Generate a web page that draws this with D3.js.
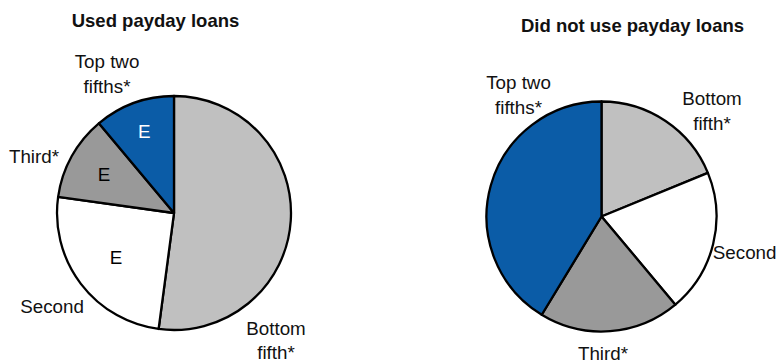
<html lang="en"><head>
<meta charset="utf-8">
<script src="https://d3js.org/d3.v7.min.js"></script>
<title>Payday loans by income fifth</title>
<style>
  body { margin: 0; background: #fff; }
  text { font-family: "Liberation Sans", Arial, sans-serif; }
</style>
</head>
<body>
<div id="chart"></div>
<script>
// categories, in clockwise order from 12 o'clock
const categories = ["Bottom fifth*", "Second", "Third*", "Top two fifths*"];
// share of each income group (%)
const usedValues = [52.1, 25.1, 11.7, 11.1];
const notUsedValues = [18.8, 20.1, 19.8, 41.3];
// "E" flags on the used-loans pie
const usedFlags = ["", "E", "E", "E"];
const notUsedFlags = ["", "", "", ""];
const titles = ["Used payday loans", "Did not use payday loans"];

const W = 777, H = 362;
const fills = ["#c0c0c0", "#ffffff", "#999999", "#0b5ca7"];
const flagColor = ["#000", "#000", "#000", "#fff"];
const FS = "18.8px";

const svg = d3.select("#chart").append("svg")
  .attr("width", W).attr("height", H);

const color = d3.scaleOrdinal().domain(categories).range(fills);
const pie = d3.pie().sort(null).value(d => d.value);

// label positions: first-line baseline, as offsets from each pie centre
const pies = [
  {
    title: titles[0], values: usedValues, flags: usedFlags,
    cx: 174, cy: 213, r: 117, titleX: 155.5, titleY: 27,
    flagR: [0, 73, 80, 87],
    labels: [
      {dx: 102, dy: 122, gap: 24, anchor: "middle"},
      {dx: -122, dy: 100, gap: 25, anchor: "middle"},
      {dx: -140, dy: -50, gap: 25, anchor: "middle"},
      {dx: -67, dy: -145, gap: 25, anchor: "middle"}
    ]
  },
  {
    title: titles[1], values: notUsedValues, flags: notUsedFlags,
    cx: 601.5, cy: 216.5, r: 115, titleX: 632.5, titleY: 32,
    flagR: [0, 0, 0, 0],
    labels: [
      {dx: 110.5, dy: -111.5, gap: 25, anchor: "middle"},
      {dx: 175, dy: 42.5, gap: 25, anchor: "end"},
      {dx: 1.5, dy: 143, gap: 25, anchor: "middle"},
      {dx: -83, dy: -127.5, gap: 25, anchor: "middle"}
    ]
  }
];

const lineSplits = {
  "Bottom fifth*": ["Bottom", "fifth*"],
  "Second": ["Second"],
  "Third*": ["Third*"],
  "Top two fifths*": ["Top two", "fifths*"]
};

pies.forEach(p => {
  const data = categories.map((c, i) => ({cat: c, value: p.values[i], flag: p.flags[i], i: i}));
  const arcs = pie(data);
  const arc = d3.arc().innerRadius(0).outerRadius(p.r);

  svg.append("text")
    .attr("x", p.titleX).attr("y", p.titleY)
    .attr("text-anchor", "middle")
    .attr("font-size", "18.5px").attr("font-weight", "bold")
    .attr("fill", "#111")
    .text(p.title);

  const g = svg.append("g").attr("transform", `translate(${p.cx},${p.cy})`);

  g.selectAll("path.slice")
    .data(arcs)
    .join("path")
    .attr("class", "slice")
    .attr("d", arc)
    .attr("fill", d => color(d.data.cat))
    .attr("stroke", "#000")
    .attr("stroke-width", 2.3)
    .attr("stroke-linejoin", "round");

  // E flags inside the slices
  g.selectAll("text.flag")
    .data(arcs.filter(d => d.data.flag))
    .join("text")
    .attr("class", "flag")
    .attr("transform", d => {
      const rr = p.flagR[d.data.i];
      const c = d3.arc().innerRadius(rr).outerRadius(rr).centroid(d);
      return `translate(${c[0]},${c[1]})`;
    })
    .attr("text-anchor", "middle")
    .attr("dy", "0.36em")
    .attr("font-size", FS)
    .attr("fill", d => flagColor[d.data.i])
    .text(d => d.data.flag);

  // outer category labels
  arcs.forEach((d, i) => {
    const L = p.labels[i];
    const lines = lineSplits[d.data.cat];
    const t = g.append("text")
      .attr("text-anchor", L.anchor)
      .attr("font-size", FS)
      .attr("fill", "#111");
    lines.forEach((ln, k) => {
      t.append("tspan")
        .attr("x", L.dx)
        .attr("y", L.dy + k * L.gap)
        .text(ln);
    });
  });
});
</script>
</body>
</html>
